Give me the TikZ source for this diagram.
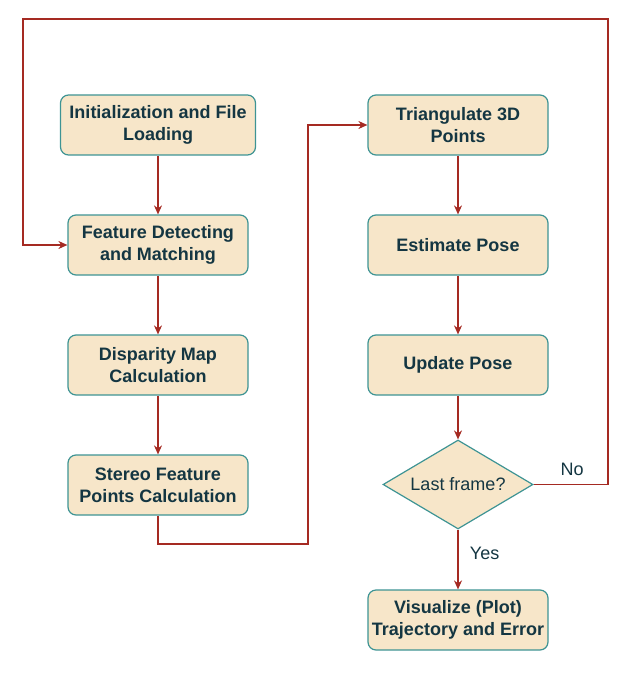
\documentclass[tikz,border=0pt]{standalone}
\usepackage{fontspec}
\setmainfont{Liberation Sans}
\usetikzlibrary{shapes.geometric,arrows.meta}

\definecolor{boxfill}{HTML}{F7E6C9}
\definecolor{boxline}{HTML}{3E9494}
\definecolor{flowline}{HTML}{A52A22}
\definecolor{boxtext}{HTML}{143642}

\tikzset{
  stepbox/.style={draw=boxline,fill=boxfill,line width=1.2pt,rounded corners=8pt,
    minimum width=180pt,minimum height=60pt,align=center,text=boxtext,
    font=\fontsize{18}{21.6}\selectfont\bfseries},
  decision/.style={draw=boxline,fill=boxfill,line width=1.2pt,diamond,aspect=1.685,
    minimum width=150pt,minimum height=89pt,inner sep=0pt,text=boxtext,
    font=\fontsize{18}{21.6}\selectfont},
  flow/.style={draw=flowline,line width=1.3pt,-{Stealth[length=9pt,width=8pt]}},
  lbl/.style={text=boxtext,font=\fontsize{18}{21.6}\selectfont}
}

\begin{document}
\begin{tikzpicture}[x=1pt,y=-1pt]
\useasboundingbox (0,0) rectangle (639,676);

% left column
\node[stepbox,minimum width=195pt] (init) at (158,125) {Initialization and File\\Loading};
\node[stepbox] (detect) at (158,245) {Feature Detecting\\and Matching};
\node[stepbox] (disp) at (158,365) {Disparity Map\\Calculation};
\node[stepbox] (stereo) at (158,485) {Stereo Feature\\Points Calculation};

% right column
\node[stepbox] (tri) at (458,125) {Triangulate 3D\\Points};
\node[stepbox] (est) at (458,245) {Estimate Pose};
\node[stepbox] (upd) at (458,365) {Update Pose};
\node[decision] (last) at (458,484.5) {Last frame?};
\node[stepbox] (vis) at (458,620) {Visualize (Plot)\\Trajectory and Error};

% corner points
\coordinate (c1) at (158,544);
\coordinate (c2) at (308,544);
\coordinate (c3) at (308,125);
\coordinate (l1) at (608,484.5);
\coordinate (l2) at (608,19);
\coordinate (l3) at (23,19);
\coordinate (l4) at (23,245);

\draw[flow] (init) -- (detect);
\draw[flow] (detect) -- (disp);
\draw[flow] (disp) -- (stereo);
\draw[flow] (stereo.south) -- (c1) -- (c2) -- (c3) -- (tri.west);
\draw[flow] (tri) -- (est);
\draw[flow] (est) -- (upd);
\draw[flow] (upd) -- (last);
\draw[flow] (last) -- (vis) node[lbl,pos=0.4,right=8pt] (yes) {Yes};
\draw[flow] (last.east) -- (l1) -- (l2) -- (l3) -- (l4) -- (detect.west);
\node[lbl] (no) at (572,469) {No};
\end{tikzpicture}
\end{document}
